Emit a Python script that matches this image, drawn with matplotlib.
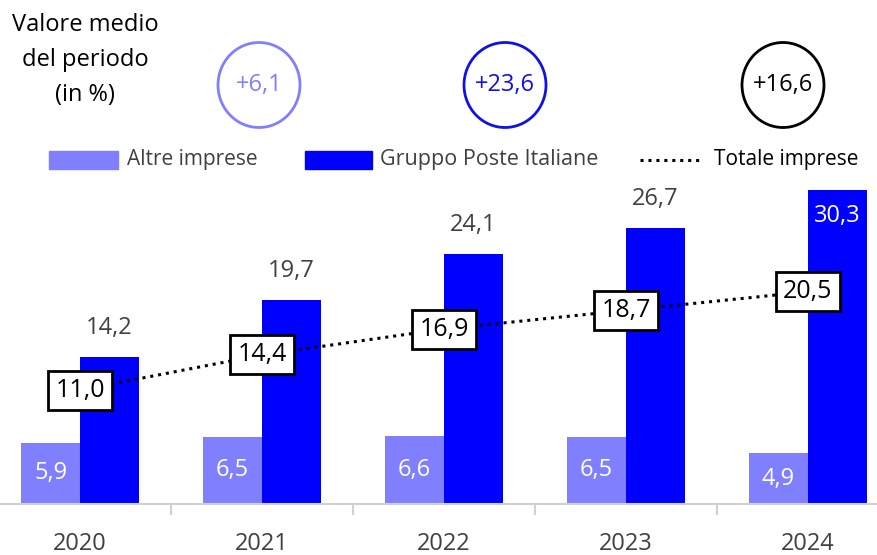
import numpy as np
import matplotlib
matplotlib.use("Agg")
import matplotlib.pyplot as plt
from matplotlib.patches import Ellipse, Rectangle
from matplotlib.lines import Line2D

plt.rcParams['font.family'] = ['Open Sans', 'DejaVu Sans']

# data
years = ['2020', '2021', '2022', '2023', '2024']
altre = [5.9, 6.5, 6.6, 6.5, 4.9]
poste = [14.2, 19.7, 24.1, 26.7, 30.3]
totale = [11.0, 14.4, 16.9, 18.7, 20.5]
medie = ['+6,1', '+23,6', '+16,6']
serie = ['Altre imprese', 'Gruppo Poste Italiane', 'Totale imprese']

c_altre = '#8080FF'
c_poste = '#0000FF'
grey = '#404040'
W, H = 877, 555

def fmt(v):
    return f'{v:.1f}'.replace('.', ',')

fig = plt.figure(figsize=(8.77, 5.55), dpi=100)
ax = fig.add_axes([0, 0.0919, 1, 0.597])

x = np.arange(len(years))
w = 0.324
ax.bar(x - w / 2, altre, w, color=c_altre)
ax.bar(x + w / 2, poste, w, color=c_poste)
ax.plot(x, totale, color='black', linestyle=(0, (1, 1.6)), linewidth=2.2, zorder=3)

for i in range(len(years)):
    ax.text(x[i] - w / 2, altre[i] / 2, fmt(altre[i]), ha='center', va='center',
            color='white', fontsize=17)
    if i == len(years) - 1:
        ax.text(x[i] + w / 2, poste[i] - 2.5, fmt(poste[i]), ha='center', va='center',
                color='white', fontsize=17)
    else:
        ax.text(x[i] + w / 2, poste[i] + 2.8, fmt(poste[i]), ha='center', va='center',
                color=grey, fontsize=17)
    ax.text(x[i], totale[i], fmt(totale[i]), ha='center', va='center', color='black',
            fontsize=18, zorder=4,
            bbox=dict(boxstyle='square,pad=0.28', fc='white', ec='black', lw=2))

ax.set_xlim(-0.44, 4.38)
ax.set_ylim(0, 32)
ax.set_xticks(x)
ax.set_xticklabels(years, fontsize=17, color=grey)
ax.set_xticks(x[:-1] + 0.5, minor=True)
ax.tick_params(axis='x', which='major', length=0, pad=20)
ax.tick_params(axis='x', which='minor', length=8, color='#d0d0d0', width=1.5)
ax.set_yticks([])
for s in ['top', 'right', 'left']:
    ax.spines[s].set_visible(False)
ax.spines['bottom'].set_color('#d0d0d0')
ax.spines['bottom'].set_linewidth(1.5)

# titolo a sinistra
fig.text(85 / W, 1 - 60 / H, 'Valore medio\ndel periodo\n(in %)', ha='center',
         va='center', fontsize=17, linespacing=1.6, color='black')

# cerchi con le medie
circ_x = [259, 505, 783]
circ_c = [c_altre, '#1010E8', 'black']
for cx, lab, col in zip(circ_x, medie, circ_c):
    fig.add_artist(Ellipse((cx / W, 1 - 85 / H), 82 / W, 85 / H,
                           transform=fig.transFigure, fill=False, ec=col, lw=2))
    fig.text(cx / W, 1 - 85 / H, lab, ha='center', va='center', fontsize=17, color=col)

# legenda (disegnata a mano)
ly = 1 - 160 / H
fig.add_artist(Rectangle((49 / W, ly - 9 / H), 69 / W, 18 / H, color=c_altre,
                         transform=fig.transFigure))
fig.text(127 / W, ly, serie[0], ha='left', va='center', fontsize=15, color=grey)
fig.add_artist(Rectangle((305 / W, ly - 9 / H), 67 / W, 18 / H, color=c_poste,
                         transform=fig.transFigure))
fig.text(380 / W, ly, serie[1], ha='left', va='center', fontsize=15.5, color=grey)
fig.add_artist(Line2D([640 / W, 700 / W], [ly, ly], color='black',
                      linestyle=(0, (1, 1.6)), linewidth=2.2, transform=fig.transFigure))
fig.text(714 / W, ly, serie[2], ha='left', va='center', fontsize=15, color='black')

fig.savefig('out.png', dpi=100)
